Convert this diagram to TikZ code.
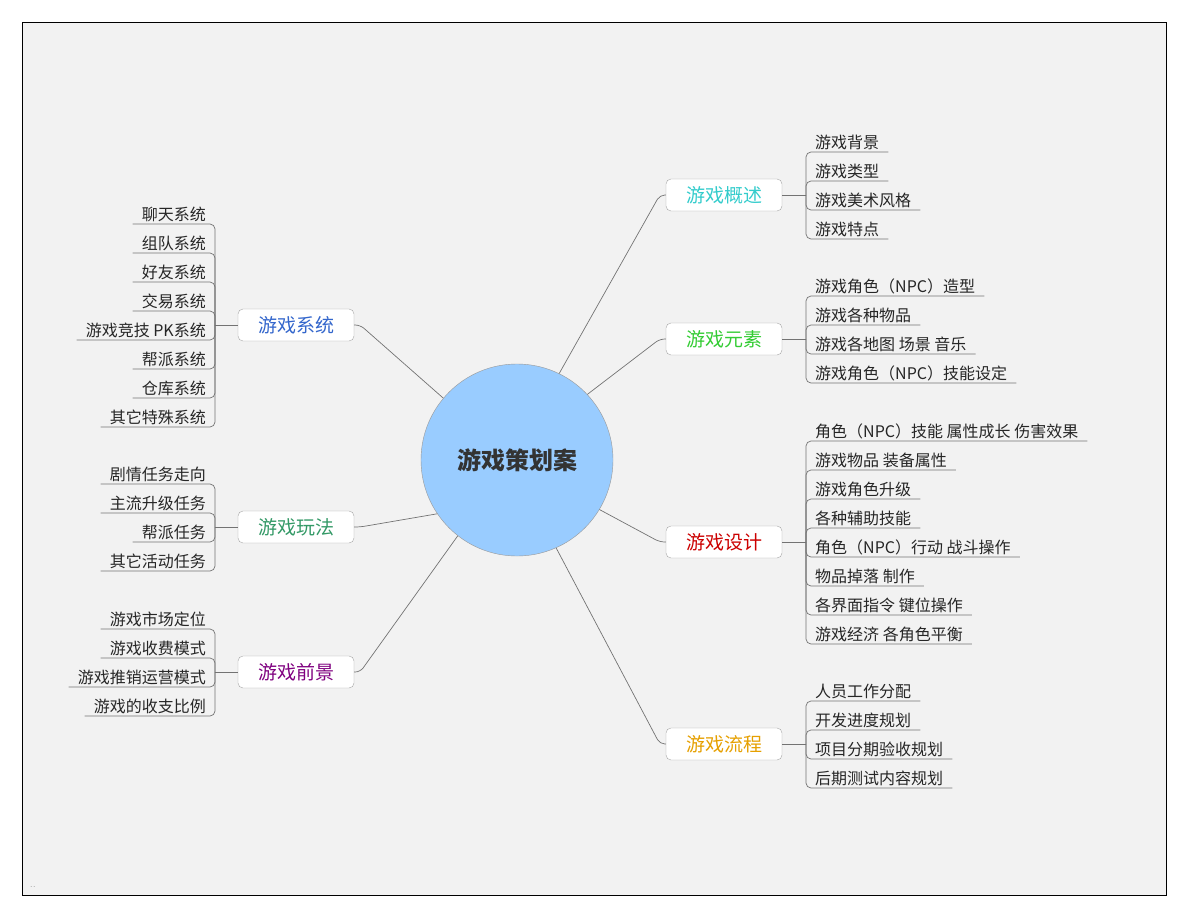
\documentclass[tikz,border=0pt]{standalone}
\usepackage{fontspec}
\setmainfont{Noto Sans CJK SC}
\begin{document}
\begin{tikzpicture}[x=1pt,y=-1pt,
  conn/.style={draw=black!55,line width=0.7pt,rounded corners=5pt},
  leaf/.style={font=\fontsize{16}{18}\selectfont,text=black!85,inner xsep=9pt,inner ysep=2pt},
  branch/.style={draw=black!35,fill=white,rounded corners=5pt,minimum width=116pt,minimum height=32pt,font=\fontsize{19}{22}\selectfont,inner sep=2pt}]
\useasboundingbox (0,0) rectangle (1188,918);
\fill[white] (0,0) rectangle (1188,918);
\draw[fill=black!5,line width=0.8pt] (22,22) rectangle (1166,895);
\node[font=\tiny,text=black!60] (dots) at (33,888) {- -};
\node[circle,minimum size=192pt,fill={rgb,255:red,153;green,204;blue,255},draw=black!40,font=\fontsize{24}{28}\selectfont\bfseries,text=black!80] (c) at (517,460) {游戏策划案};
% branches
\node[branch,text={rgb,255:red,51;green,204;blue,204}] (b1) at (724,195) {游戏概述};
\node[branch,text={rgb,255:red,51;green,204;blue,51}] (b2) at (724,339) {游戏元素};
\node[branch,text={rgb,255:red,204;green,0;blue,0}] (b3) at (724,542) {游戏设计};
\node[branch,text={rgb,255:red,230;green,160;blue,0}] (b4) at (724,744) {游戏流程};
\node[branch,text={rgb,255:red,51;green,102;blue,204}] (b5) at (296,325) {游戏系统};
\node[branch,text={rgb,255:red,51;green,153;blue,102}] (b6) at (296,527) {游戏玩法};
\node[branch,text={rgb,255:red,128;green,0;blue,128}] (b7) at (296,672) {游戏前景};
\draw[conn] (c.64) -- ([xshift=-6pt]b1.west) -- (b1.west);
\draw[conn] (c.43) -- ([xshift=-6pt]b2.west) -- (b2.west);
\draw[conn] (c.-31) -- ([xshift=-6pt]b3.west) -- (b3.west);
\draw[conn] (c.-66) -- ([xshift=-6pt]b4.west) -- (b4.west);
\draw[conn] (c.140) -- ([xshift=6pt]b5.east) -- (b5.east);
\draw[conn] (c.214) -- ([xshift=6pt]b6.east) -- (b6.east);
\draw[conn] (c.232) -- ([xshift=6pt]b7.east) -- (b7.east);
% right leaves
\foreach \bn/\by/\ys/\lst in {b1/195/123/{游戏背景,游戏类型,游戏美术风格,游戏特点},
  b2/339/267/{游戏角色（NPC）造型,游戏各种物品,游戏各地图 场景 音乐,游戏角色（NPC）技能设定},
  b3/542/412/{角色（NPC）技能 属性成长 伤害效果,游戏物品 装备属性,游戏角色升级,各种辅助技能,角色（NPC）行动 战斗操作,物品掉落 制作,各界面指令 键位操作,游戏经济 各角色平衡},
  b4/744/672/{人员工作分配,开发进度规划,项目分期验收规划,后期测试内容规划}}{
  \draw[conn] (\bn.east) -- (806,\by);
  \foreach \t [count=\i] in \lst {
    \node[leaf,anchor=south west] (\bn l\i) at (806,\ys+29*\i) {\t};
    \draw[conn] (\bn l\i.south east) -- (\bn l\i.south west) -- (806,\by);
  }
}
% left leaves
\foreach \bn/\by/\ys/\lst in {b5/325/195/{聊天系统,组队系统,好友系统,交易系统,游戏竞技 PK系统,帮派系统,仓库系统,其它特殊系统},
  b6/527/455/{剧情任务走向,主流升级任务,帮派任务,其它活动任务},
  b7/672/600/{游戏市场定位,游戏收费模式,游戏推销运营模式,游戏的收支比例}}{
  \draw[conn] (\bn.west) -- (215,\by);
  \foreach \t [count=\i] in \lst {
    \node[leaf,anchor=south east] (\bn l\i) at (215,\ys+29*\i) {\t};
    \draw[conn] (\bn l\i.south west) -- (\bn l\i.south east) -- (215,\by);
  }
}
\end{tikzpicture}
\end{document}
